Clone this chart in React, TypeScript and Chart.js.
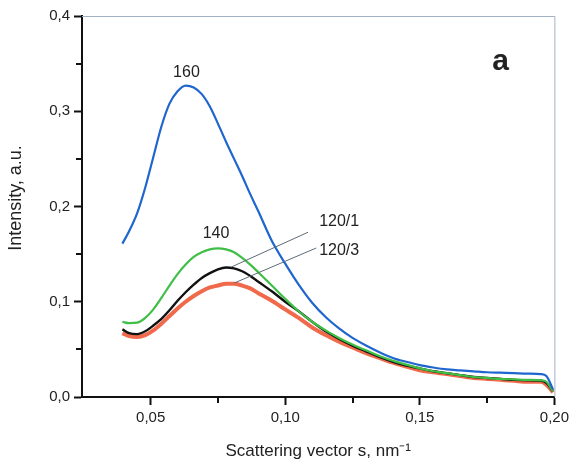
import React, { useEffect, useRef } from "react";
import { Chart, registerables } from "chart.js";

Chart.register(...registerables);

// Scattering vector s, nm^-1 (shared x grid)
const scatteringVector = [
  0.0395, 0.042, 0.045, 0.048, 0.051, 0.054, 0.057, 0.060, 0.063, 0.066,
  0.069, 0.072, 0.075, 0.078, 0.081, 0.084, 0.087, 0.090, 0.095, 0.100,
  0.105, 0.110, 0.115, 0.120, 0.125, 0.130, 0.135, 0.140, 0.145, 0.150,
  0.155, 0.160, 0.165, 0.170, 0.175, 0.180, 0.185, 0.190, 0.195, 0.197, 0.1995,
];

const intensity160 = [
  0.161, 0.174, 0.193, 0.220, 0.252, 0.284, 0.308, 0.321, 0.327, 0.325,
  0.318, 0.305, 0.287, 0.268, 0.250, 0.232, 0.213, 0.195, 0.164, 0.140,
  0.118, 0.099, 0.084, 0.072, 0.062, 0.054, 0.047, 0.041, 0.037, 0.0335,
  0.031, 0.029, 0.028, 0.027, 0.026, 0.0255, 0.025, 0.0245, 0.024, 0.022, 0.008,
];

const intensity140 = [
  0.079, 0.0775, 0.078, 0.083, 0.092, 0.104, 0.117, 0.129, 0.139, 0.147,
  0.152, 0.155, 0.156, 0.155, 0.152, 0.146, 0.139, 0.131, 0.117, 0.103,
  0.090, 0.079, 0.070, 0.062, 0.055, 0.049, 0.043, 0.038, 0.034, 0.030,
  0.027, 0.025, 0.023, 0.021, 0.020, 0.019, 0.0185, 0.018, 0.0175, 0.016, 0.006,
];

const intensity120_1 = [
  0.071, 0.067, 0.066, 0.069, 0.075, 0.082, 0.091, 0.101, 0.110, 0.118,
  0.125, 0.130, 0.134, 0.136, 0.135, 0.132, 0.127, 0.121, 0.111, 0.100,
  0.090, 0.079, 0.069, 0.061, 0.054, 0.048, 0.042, 0.037, 0.033, 0.030,
  0.027, 0.025, 0.023, 0.021, 0.020, 0.019, 0.018, 0.0175, 0.017, 0.015, 0.006,
];

const intensity120_3 = [
  0.067, 0.064, 0.063, 0.065, 0.070, 0.077, 0.085, 0.093, 0.100, 0.106,
  0.111, 0.115, 0.117, 0.119, 0.119, 0.117, 0.114, 0.109, 0.101, 0.092,
  0.083, 0.073, 0.065, 0.058, 0.052, 0.046, 0.041, 0.036, 0.032, 0.028,
  0.026, 0.024, 0.022, 0.020, 0.019, 0.018, 0.017, 0.016, 0.016, 0.013, 0.005,
];

const xMajorTicks = [0.05, 0.1, 0.15, 0.2];
const xMinorTicks = [0.075, 0.125, 0.175];
const yMinorTicks = [0.05, 0.15, 0.25, 0.35];

// Curve labels: [text, x, y, align]
const curveLabels: [string, number, number, string][] = [
  ["160", 0.0633, 0.341, "center"],
  ["140", 0.0743, 0.172, "center"],
  ["120/1", 0.1126, 0.184, "left"],
  ["120/3", 0.1126, 0.154, "left"],
];
// Leader lines: [x1, y1, x2, y2]
const leaderLines: [number, number, number, number][] = [
  [0.080, 0.1365, 0.1085, 0.173],
  [0.0811, 0.1197, 0.1115, 0.1564],
];

const FONT = "'Liberation Sans', Arial, sans-serif";

const comma = (v: number, d: number) => v.toFixed(d).replace(".", ",");

const pts = (ys: number[]) => ys.map((y, i) => ({ x: scatteringVector[i], y }));

const decorPlugin = {
  id: "decor",
  afterDraw(chart: any) {
    const { ctx, chartArea, scales } = chart;
    const xs = scales.x;
    const ys = scales.y;
    ctx.save();
    // top & right frame
    ctx.strokeStyle = "#a3b2c2";
    ctx.lineWidth = 1;
    ctx.beginPath();
    ctx.moveTo(chartArea.left, chartArea.top + 0.5);
    ctx.lineTo(chartArea.right + 0.5, chartArea.top + 0.5);
    ctx.lineTo(chartArea.right + 0.5, chartArea.bottom);
    ctx.stroke();
    // minor ticks
    ctx.strokeStyle = "#111";
    ctx.lineWidth = 2;
    ctx.beginPath();
    for (const v of xMinorTicks) {
      const px = Math.round(xs.getPixelForValue(v));
      ctx.moveTo(px, chartArea.bottom);
      ctx.lineTo(px, chartArea.bottom + 6);
    }
    for (const v of yMinorTicks) {
      const py = Math.round(ys.getPixelForValue(v));
      ctx.moveTo(chartArea.left, py);
      ctx.lineTo(chartArea.left - 6, py);
    }
    ctx.stroke();
    // leader lines
    ctx.strokeStyle = "#5d6b78";
    ctx.lineWidth = 1;
    ctx.beginPath();
    for (const [x1, y1, x2, y2] of leaderLines) {
      ctx.moveTo(xs.getPixelForValue(x1), ys.getPixelForValue(y1));
      ctx.lineTo(xs.getPixelForValue(x2), ys.getPixelForValue(y2));
    }
    ctx.stroke();
    // curve labels
    ctx.fillStyle = "#222";
    ctx.font = `16px ${FONT}`;
    ctx.textBaseline = "middle";
    for (const [t, x, y, a] of curveLabels) {
      ctx.textAlign = a as CanvasTextAlign;
      ctx.fillText(t, xs.getPixelForValue(x), ys.getPixelForValue(y));
    }
    // panel letter
    ctx.font = `bold 30px ${FONT}`;
    ctx.textAlign = "center";
    ctx.fillText("a", xs.getPixelForValue(0.18), ys.getPixelForValue(0.352));
    // axis titles
    ctx.font = `17px ${FONT}`;
    ctx.fillStyle = "#222";
    ctx.textAlign = "center";
    ctx.fillText("Scattering vector s, nm\u207B\u00B9", (chartArea.left + chartArea.right) / 2, 451);
    ctx.font = `18px ${FONT}`;
    ctx.translate(16, 198);
    ctx.rotate(-Math.PI / 2);
    ctx.fillText("Intensity, a.u.", 0, 0);
    ctx.restore();
  },
};

export default function App() {
  const ref = useRef<HTMLCanvasElement>(null);
  useEffect(() => {
    const canvas = ref.current;
    if (!canvas) return;
    const mk = (label: string, ys: number[], color: string, width: number) => ({
      label,
      data: pts(ys),
      borderColor: color,
      backgroundColor: color,
      borderWidth: width,
      pointRadius: 0,
      fill: false,
      cubicInterpolationMode: "monotone" as const,
    });
    const chart = new Chart(canvas, {
      type: "line",
      data: {
        datasets: [
          mk("160", intensity160, "#1f66cf", 2.2),
          mk("140", intensity140, "#3fbf45", 2.2),
          mk("120/1", intensity120_1, "#111111", 2.4),
          mk("120/3", intensity120_3, "#f0694b", 4),
        ],
      },
      options: {
        animation: false,
        responsive: false,
        events: [],
        layout: { padding: { top: 16, right: 17, left: 0, bottom: 0 } },
        plugins: { legend: { display: false }, tooltip: { enabled: false } },
        scales: {
          x: {
            type: "linear",
            min: 0.0245,
            max: 0.2,
            afterBuildTicks: (s: any) => {
              s.ticks = xMajorTicks.map((value) => ({ value }));
            },
            afterFit: (s: any) => {
              s.height = 66;
            },
            ticks: {
              callback: (v: any) => comma(Number(v), 2),
              font: { family: FONT, size: 15 },
              color: "#222",
              padding: 4,
              maxRotation: 0,
              autoSkip: false,
            },
            grid: {
              drawOnChartArea: false,
              drawTicks: true,
              tickLength: 8,
              tickWidth: 2,
              tickColor: "#111",
            },
            border: { display: true, color: "#111", width: 2 },
          },
          y: {
            type: "linear",
            min: 0,
            max: 0.4,
            ticks: {
              stepSize: 0.1,
              callback: (v: any) => comma(Number(v), 1),
              font: { family: FONT, size: 15 },
              color: "#222",
              padding: 4,
            },
            afterFit: (s: any) => {
              s.width = 82;
            },
            grid: {
              drawOnChartArea: false,
              drawTicks: true,
              tickLength: 8,
              tickWidth: 2,
              tickColor: "#111",
            },
            border: { display: true, color: "#111", width: 2 },
          },
        },
      },
      plugins: [decorPlugin],
    } as any);
    return () => chart.destroy();
  }, []);
  return (
    <div style={{ position: "fixed", left: 0, top: 0, width: 573, height: 463, background: "#fff" }}>
      <canvas ref={ref} width={573} height={463} style={{ display: "block" }} />
    </div>
  );
}
